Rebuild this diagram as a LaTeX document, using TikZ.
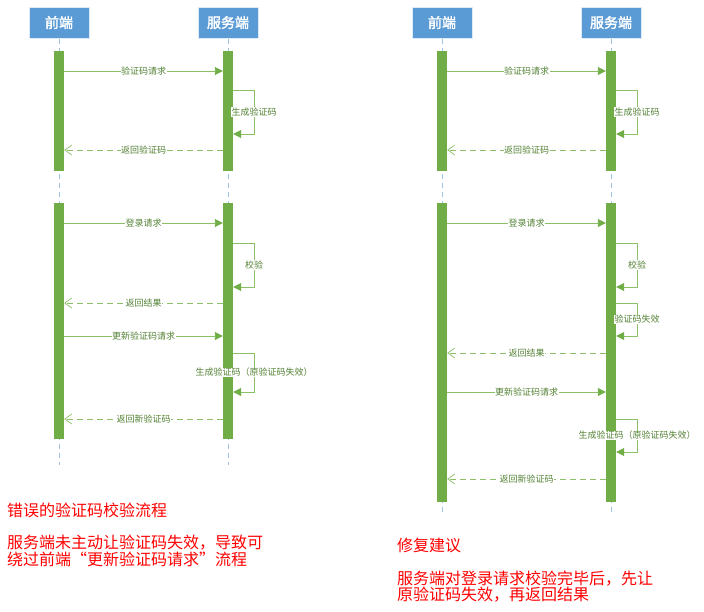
\documentclass[tikz,border=0pt]{standalone}
\usepackage{fontspec}
\newfontfamily\cjk{Noto Sans CJK SC}
\newfontfamily\cjkbold[FakeBold=2]{Noto Sans CJK SC}
\usetikzlibrary{arrows.meta}
\definecolor{headblue}{HTML}{5B9BD5}
\definecolor{bargreen}{HTML}{70AD47}
\definecolor{linegreen}{HTML}{8CC068}
\definecolor{lblgreen}{HTML}{548235}
\definecolor{lifeblue}{HTML}{9DC3E6}

\begin{document}
\begin{tikzpicture}[
    x = 1pt, y = -1pt,
    head/.style = {
      draw = white!80!headblue,
      fill = headblue,
      line width = 1pt,
      text = white,
      font = \cjkbold\fontsize{14}{14}\selectfont,
      minimum width = 60pt,
      minimum height = 31pt,
      inner sep = 0pt
    },
    bar/.style = {
      fill = bargreen,
      minimum width = 10pt,
      inner sep = 0pt
    },
    life/.style = {lifeblue, line width = 1pt, dash pattern = on 5pt off 4pt},
    req/.style = {linegreen, line width = 0.9pt, -{Triangle[length=8pt,width=8pt,color=bargreen]}},
    ret/.style = {linegreen, line width = 0.9pt, dash pattern = on 6pt off 4pt,
      -{Straight Barb[length=7pt,width=10pt,line width=0.7pt]}},
    lbl/.style = {fill = white, inner sep = 0.5pt, text = lblgreen,
      font = \cjk\fontsize{9}{9}\selectfont},
    note/.style = {text = red, anchor = west, align = left, inner sep = 0pt,
      font = \cjk\fontsize{16}{16.7}\selectfont}
  ]
\useasboundingbox (0,0) rectangle (704,611);

% heads
\node[head] (feL) at (59,22.5)  {前端};
\node[head] (beL) at (228,22.5) {服务端};
\node[head] (feR) at (442,22.5) {前端};
\node[head] (beR) at (611,22.5) {服务端};

% lifelines
\draw[life] (feL.south) -- (feL.south |- 0,465);
\draw[life] (beL.south) -- (beL.south |- 0,465);
\draw[life] (feR.south) -- (feR.south |- 0,515);
\draw[life] (beR.south) -- (beR.south |- 0,515);

% bars
\node[bar, minimum height = 120pt] (fL1) at (59,111)  {};
\node[bar, minimum height = 120pt] (bL1) at (228,111) {};
\node[bar, minimum height = 236pt] (fL2) at (59,321)  {};
\node[bar, minimum height = 236pt] (bL2) at (228,321) {};
\node[bar, minimum height = 120pt] (fR1) at (442,111) {};
\node[bar, minimum height = 120pt] (bR1) at (611,111) {};
\node[bar, minimum height = 299pt] (fR2) at (442,352.5) {};
\node[bar, minimum height = 299pt] (bR2) at (611,352.5) {};

% left: wrong flow
\draw[req] (fL1.east |- 0,71) -- (bL1.west |- 0,71) node[midway,lbl] {验证码请求};
\draw[req] (bL1.east |- 0,90) -- ++(21,0) |- (bL1.east |- 0,134) node[pos=0.25,lbl] {生成验证码};
\draw[ret] (bL1.west |- 0,150) -- (fL1.east |- 0,150) node[midway,lbl] {返回验证码};

\draw[req] (fL2.east |- 0,223) -- (bL2.west |- 0,223) node[midway,lbl] {登录请求};
\draw[req] (bL2.east |- 0,243) -- ++(21,0) |- (bL2.east |- 0,287) node[pos=0.25,lbl] {校验};
\draw[ret] (bL2.west |- 0,303) -- (fL2.east |- 0,303) node[midway,lbl] {返回结果};
\draw[req] (fL2.east |- 0,336) -- (bL2.west |- 0,336) node[midway,lbl] {更新验证码请求};
\draw[req] (bL2.east |- 0,353) -- ++(21,0) |- (bL2.east |- 0,392) node[pos=0.25,lbl] {生成验证码（原验证码失效）};
\draw[ret] (bL2.west |- 0,419) -- (fL2.east |- 0,419) node[midway,lbl] {返回新验证码};

% right: suggested flow
\draw[req] (fR1.east |- 0,71) -- (bR1.west |- 0,71) node[midway,lbl] {验证码请求};
\draw[req] (bR1.east |- 0,90) -- ++(21,0) |- (bR1.east |- 0,134) node[pos=0.25,lbl] {生成验证码};
\draw[ret] (bR1.west |- 0,150) -- (fR1.east |- 0,150) node[midway,lbl] {返回验证码};

\draw[req] (fR2.east |- 0,223) -- (bR2.west |- 0,223) node[midway,lbl] {登录请求};
\draw[req] (bR2.east |- 0,243) -- ++(21,0) |- (bR2.east |- 0,287) node[pos=0.25,lbl] {校验};
\draw[req] (bR2.east |- 0,303) -- ++(21,0) |- (bR2.east |- 0,336) node[pos=0.25,lbl] {验证码失效};
\draw[ret] (bR2.west |- 0,353) -- (fR2.east |- 0,353) node[midway,lbl] {返回结果};
\draw[req] (fR2.east |- 0,392) -- (bR2.west |- 0,392) node[midway,lbl] {更新验证码请求};
\draw[req] (bR2.east |- 0,419) -- ++(21,0) |- (bR2.east |- 0,452) node[pos=0.25,lbl] {生成验证码（原验证码失效）};
\draw[ret] (bR2.west |- 0,479) -- (fR2.east |- 0,479) node[midway,lbl] {返回新验证码};

% notes
\node[note] (wrongT) at (7,510) {错误的验证码校验流程};
\node[note] (wrongD) at (7,551) {服务端未主动让验证码失效，导致可\\绕过前端“更新验证码请求”流程};
\node[note] (fixT) at (397,545) {修复建议};
\node[note] (fixD) at (397,586.5) {服务端对登录请求校验完毕后，先让\\原验证码失效，再返回结果};

\end{tikzpicture}
\end{document}
